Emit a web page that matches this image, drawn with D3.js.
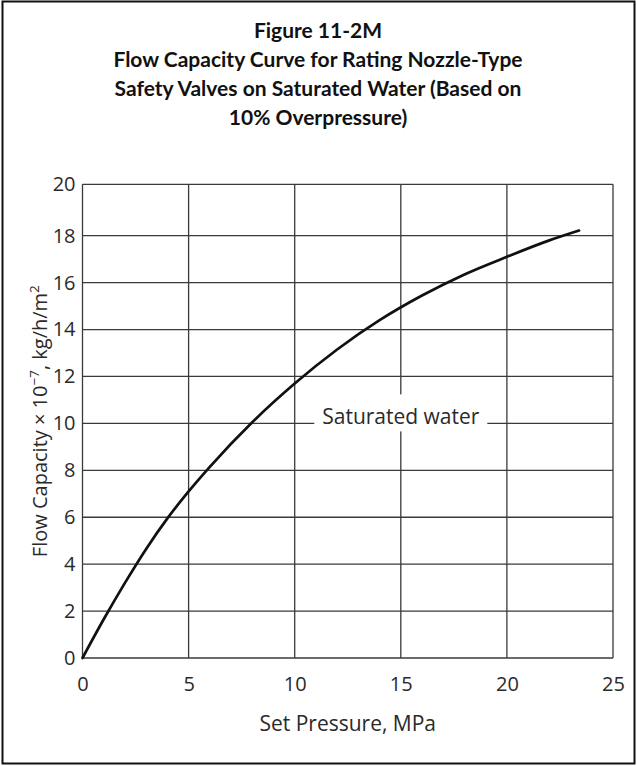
<!DOCTYPE html>
<html>
<head>
<meta charset="utf-8">
<script src="https://cdn.jsdelivr.net/npm/d3@7"></script>
<style>
  html, body { margin: 0; padding: 0; background: #fff; }
  svg { display: block; }
</style>
</head>
<body>
<svg id="chart" width="637" height="766"></svg>
<script>
// Flow capacity curve, saturated water (10% overpressure)
const setPressure = [0, 1, 2, 3, 4, 5, 6, 8, 10, 12, 14, 16, 18, 20, 22, 23.4];
const flowCapacity = [0, 1.65, 3.2, 4.65, 5.95, 7.1, 8.15, 10.05, 11.7, 13.15, 14.4, 15.45, 16.35, 17.1, 17.8, 18.2];
const xTicks = [0, 5, 10, 15, 20, 25];
const yTicks = [0, 2, 4, 6, 8, 10, 12, 14, 16, 18, 20];
const titleLines = [
  "Figure 11-2M",
  "Flow Capacity Curve for Rating Nozzle-Type",
  "Safety Valves on Saturated Water (Based on",
  "10% Overpressure)"
];
const curveLabel = { text: "Saturated water", x: 15, y: 10 };

const W = 637, H = 766;
const plot = { left: 82.5, right: 613, top: 184.3, bottom: 658 };
const bodyFont = "'Open Sans', 'Noto Sans', sans-serif";
const titleFont = "Lato, 'Open Sans', sans-serif";
const gridColor = "#3a3a3a";
const textColor = "#2a2a2a";

const svg = d3.select("#chart");

// outer frame
svg.append("rect")
  .attr("x", 2.5).attr("y", 1.5)
  .attr("width", W - 5).attr("height", H - 4)
  .attr("fill", "none").attr("stroke", "#111").attr("stroke-width", 2);

// title block
const title = svg.append("text")
  .attr("text-anchor", "middle")
  .attr("font-family", titleFont)
  .attr("font-weight", "bold")
  .attr("font-size", 21)
  .attr("fill", "#111");
titleLines.forEach((t, i) => {
  title.append("tspan").attr("x", 318).attr("y", 37.5 + i * 29.3).text(t);
});

// scales: the top interval of the printed grid is drawn slightly taller
const x = d3.scaleLinear().domain([0, 25]).range([plot.left, plot.right]);
const y = d3.scaleLinear().domain([0, 18, 20]).range([plot.bottom, 235.7, plot.top]);

// grid
const grid = svg.append("g").attr("stroke", gridColor).attr("stroke-width", 1.3);
grid.selectAll("line.v").data(xTicks).join("line")
  .attr("class", "v")
  .attr("x1", d => x(d)).attr("x2", d => x(d))
  .attr("y1", plot.top).attr("y2", plot.bottom);
grid.selectAll("line.h").data(yTicks).join("line")
  .attr("class", "h")
  .attr("x1", plot.left).attr("x2", plot.right)
  .attr("y1", d => y(d)).attr("y2", d => y(d));

// tick labels (grid supplies the lines)
const xAxis = svg.append("g")
  .attr("transform", `translate(0,${plot.bottom})`)
  .call(d3.axisBottom(x).tickValues(xTicks).tickSize(0).tickPadding(19).tickFormat(d3.format("d")));
const yAxis = svg.append("g")
  .attr("transform", `translate(${plot.left},0)`)
  .call(d3.axisLeft(y).tickValues(yTicks).tickSize(0).tickPadding(7).tickFormat(d3.format("d")));
[xAxis, yAxis].forEach(a => {
  a.select(".domain").remove();
  a.selectAll("text")
    .attr("font-family", bodyFont)
    .attr("font-size", 20)
    .attr("fill", textColor);
});

// curve
const line = d3.line()
  .x((d, i) => x(setPressure[i]))
  .y(d => y(d))
  .curve(d3.curveMonotoneX);
svg.append("path")
  .datum(flowCapacity)
  .attr("d", line)
  .attr("fill", "none")
  .attr("stroke", "#111")
  .attr("stroke-width", 2.7)
  .attr("stroke-linecap", "round");

// curve label, knocked out of the grid
const lbl = svg.append("g")
  .attr("transform", `translate(${x(curveLabel.x)},${y(curveLabel.y)})`);
lbl.append("rect")
  .attr("x", -86.5).attr("y", -29)
  .attr("width", 173).attr("height", 37)
  .attr("fill", "#fff");
lbl.append("text")
  .attr("text-anchor", "middle")
  .attr("y", 1)
  .attr("font-family", bodyFont)
  .attr("font-size", 21)
  .attr("fill", textColor)
  .text(curveLabel.text);

// axis titles
svg.append("text")
  .attr("x", (plot.left + plot.right) / 2).attr("y", 730.5)
  .attr("text-anchor", "middle")
  .attr("font-family", bodyFont)
  .attr("font-size", 21)
  .attr("fill", textColor)
  .text("Set Pressure, MPa");

const yTitle = svg.append("text")
  .attr("transform", `translate(47,${(plot.top + plot.bottom) / 2}) rotate(-90)`)
  .attr("text-anchor", "middle")
  .attr("font-family", bodyFont)
  .attr("font-size", 20)
  .attr("fill", textColor);
yTitle.append("tspan").text("Flow Capacity × 10");
yTitle.append("tspan").attr("dy", -8).attr("font-size", 13.5).text("−7");
yTitle.append("tspan").attr("dy", 8).text(", kg/h/m");
yTitle.append("tspan").attr("dy", -8).attr("font-size", 13.5).text("2");
</script>
</body>
</html>
